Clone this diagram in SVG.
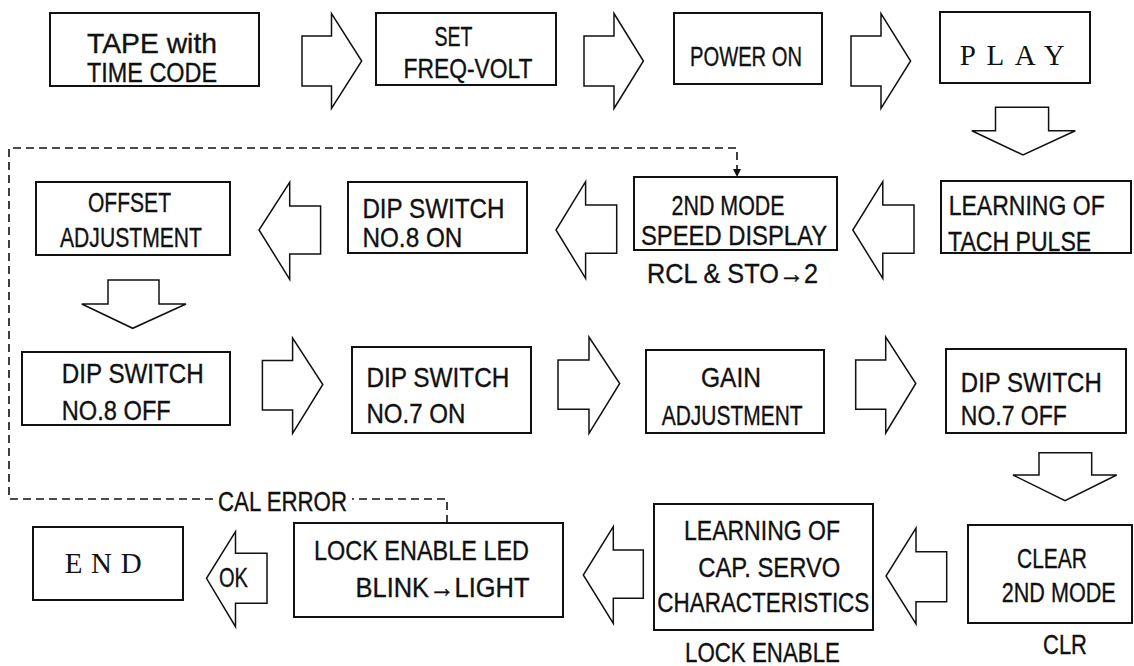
<svg xmlns="http://www.w3.org/2000/svg" width="1134" height="666" viewBox="0 0 1134 666">
<style>
.box{fill:#fff;stroke:#111;stroke-width:2}
.blk{fill:#fff;stroke:#111;stroke-width:1.5;stroke-linejoin:miter}
.dash{fill:none;stroke:#111;stroke-width:1.6;stroke-dasharray:8 5}
.t{font-family:"Liberation Sans",Arial,sans-serif;font-size:28px;fill:#111;stroke:#111;stroke-width:0.35}
.s{font-family:"Liberation Serif","Times New Roman",serif;font-size:29px;fill:#111}
</style>
<rect width="1134" height="666" fill="#fff"/>
<g id="connectors">
<path class="blk" d="M302,36 L331.5,36 L331.5,13.5 L361.7,61 L331.5,108.5 L331.5,86 L302,86 Z"/>
<path class="blk" d="M584,36 L614,36 L614,13.5 L643.4,61 L614,108.5 L614,86 L584,86 Z"/>
<path class="blk" d="M851,36 L881,36 L881,13.5 L910.6,61 L881,108.5 L881,86 L851,86 Z"/>
<path class="blk" d="M995.5,107.3 L1048.6,107.3 L1048.6,130.7 L1075.3,130.7 L1023,155 L971.8,130.7 L995.5,130.7 Z"/>
<path class="blk" d="M914,205 L882.8,205 L882.8,181.7 L852.8,230 L882.8,278.3 L882.8,253.3 L914,253.3 Z"/>
<path class="blk" d="M616.7,205 L585.6,205 L585.6,181.7 L556,230 L585.6,278.3 L585.6,253.3 L616.7,253.3 Z"/>
<path class="blk" d="M320.6,206 L289.7,206 L289.7,182.3 L259,230 L289.7,279.3 L289.7,254 L320.6,254 Z"/>
<path class="blk" d="M108,280 L159,280 L159,304 L186,304 L132.7,328.3 L81.8,304 L108,304 Z"/>
<path class="blk" d="M262.4,360.5 L292.6,360.5 L292.6,338 L322.8,384.5 L292.6,433.3 L292.6,410 L262.4,410 Z"/>
<path class="blk" d="M558,360 L589,360 L589,337 L619.7,383.5 L589,433.3 L589,409.3 L558,409.3 Z"/>
<path class="blk" d="M855.7,360 L885.7,360 L885.7,337 L915.8,383.5 L885.7,433 L885.7,409.3 L855.7,409.3 Z"/>
<path class="blk" d="M1039,452.7 L1091.7,452.7 L1091.7,475 L1116.7,475 L1065,500.7 L1013,475 L1039,475 Z"/>
<path class="blk" d="M946.7,551.7 L916,551.7 L916,528 L886,576 L916,624 L916,601.7 L946.7,601.7 Z"/>
<path class="blk" d="M643.3,550 L613.3,550 L613.3,526.7 L583.3,575 L613.3,623.3 L613.3,598.3 L643.3,598.3 Z"/>
<path class="blk" d="M267,553.3 L235.5,553.3 L235.5,531.7 L206.5,578.3 L235.5,626.7 L235.5,603.3 L267,603.3 Z"/>
<text class="t" x="219" y="587" font-size="27" textLength="29" lengthAdjust="spacingAndGlyphs">OK</text>
<path class="dash" d="M447,523 V499 H352"/>
<path class="dash" d="M213,499 H9 V148 H737 V170"/>
<polygon points="733,169 741,169 737,177" fill="#111"/>
<text class="t" x="218" y="510.7" textLength="129" lengthAdjust="spacingAndGlyphs">CAL ERROR</text>
</g>
<g id="tape"><rect class="box" x="50" y="13" width="209" height="73"/>
<text class="t" x="87" y="53" textLength="130" lengthAdjust="spacingAndGlyphs">TAPE with</text>
<text class="t" x="87" y="82" textLength="130" lengthAdjust="spacingAndGlyphs">TIME CODE</text></g>
<g id="set"><rect class="box" x="376" y="13" width="180" height="72"/>
<text class="t" x="434.4" y="46" textLength="38" lengthAdjust="spacingAndGlyphs">SET</text>
<text class="t" x="403.5" y="78.3" textLength="129" lengthAdjust="spacingAndGlyphs">FREQ-VOLT</text></g>
<g id="power"><rect class="box" x="674" y="13" width="148" height="71"/>
<text class="t" x="690" y="66" textLength="112" lengthAdjust="spacingAndGlyphs">POWER ON</text></g>
<g id="play"><rect class="box" x="940" y="12" width="150" height="71"/>
<text class="s" x="959.7" y="65" textLength="105" lengthAdjust="spacing">PLAY</text></g>
<g id="tach"><rect class="box" x="941" y="181" width="190" height="72"/>
<text class="t" transform="translate(948.7,215) scale(0.8,1)" x="0" y="0" textLength="195" lengthAdjust="spacingAndGlyphs">LEARNING OF</text>
<text class="t" transform="translate(948,251) scale(0.8,1)" x="0" y="0" textLength="179" lengthAdjust="spacingAndGlyphs">TACH PULSE</text></g>
<g id="mode2"><rect class="box" x="634" y="177" width="203" height="73"/>
<text class="t" x="671.6" y="215" textLength="113" lengthAdjust="spacingAndGlyphs">2ND MODE</text>
<text class="t" x="641" y="245" textLength="186" lengthAdjust="spacingAndGlyphs">SPEED DISPLAY</text>
<text class="t" x="647" y="283.3" textLength="171" lengthAdjust="spacingAndGlyphs">RCL &amp; STO→2</text></g>
<g id="dip8on"><rect class="box" x="348" y="182" width="179" height="71"/>
<text class="t" x="362.4" y="218" textLength="142" lengthAdjust="spacingAndGlyphs">DIP SWITCH</text>
<text class="t" x="362.4" y="247" textLength="100" lengthAdjust="spacingAndGlyphs">NO.8 ON</text></g>
<g id="offset"><rect class="box" x="36" y="182" width="194" height="73"/>
<text class="t" x="88" y="211.7" textLength="83" lengthAdjust="spacingAndGlyphs">OFFSET</text>
<text class="t" x="60" y="246.7" textLength="142" lengthAdjust="spacingAndGlyphs">ADJUSTMENT</text></g>
<g id="dip8off"><rect class="box" x="22" y="352" width="208" height="73"/>
<text class="t" x="61.8" y="383.3" textLength="142" lengthAdjust="spacingAndGlyphs">DIP SWITCH</text>
<text class="t" x="61.8" y="420" textLength="109" lengthAdjust="spacingAndGlyphs">NO.8 OFF</text></g>
<g id="dip7on"><rect class="box" x="352" y="347" width="179" height="86"/>
<text class="t" x="366.4" y="386.7" textLength="143" lengthAdjust="spacingAndGlyphs">DIP SWITCH</text>
<text class="t" x="366.4" y="423.3" textLength="99" lengthAdjust="spacingAndGlyphs">NO.7 ON</text></g>
<g id="gain"><rect class="box" x="646" y="350" width="178" height="83"/>
<text class="t" x="701" y="386.7" textLength="60" lengthAdjust="spacingAndGlyphs">GAIN</text>
<text class="t" x="661.7" y="425" textLength="141" lengthAdjust="spacingAndGlyphs">ADJUSTMENT</text></g>
<g id="dip7off"><rect class="box" x="946" y="349" width="180" height="84"/>
<text class="t" x="960.8" y="392" textLength="141" lengthAdjust="spacingAndGlyphs">DIP SWITCH</text>
<text class="t" x="960.8" y="425" textLength="106" lengthAdjust="spacingAndGlyphs">NO.7 OFF</text></g>
<g id="clear"><rect class="box" x="968" y="525" width="164" height="98"/>
<text class="t" x="1017" y="568.3" textLength="70" lengthAdjust="spacingAndGlyphs">CLEAR</text>
<text class="t" transform="translate(1001.7,601.7) scale(0.8,1)" x="0" y="0" textLength="142.5" lengthAdjust="spacingAndGlyphs">2ND MODE</text>
<text class="t" x="1043" y="654" textLength="44" lengthAdjust="spacingAndGlyphs">CLR</text></g>
<g id="capservo"><rect class="box" x="654" y="504" width="219" height="126"/>
<text class="t" x="684" y="540" textLength="156" lengthAdjust="spacingAndGlyphs">LEARNING OF</text>
<text class="t" x="698.3" y="576.7" textLength="142" lengthAdjust="spacingAndGlyphs">CAP. SERVO</text>
<text class="t" x="657.3" y="611.7" textLength="212" lengthAdjust="spacingAndGlyphs">CHARACTERISTICS</text>
<text class="t" x="685" y="661.7" textLength="155" lengthAdjust="spacingAndGlyphs">LOCK ENABLE</text></g>
<g id="lockled"><rect class="box" x="294" y="523" width="269" height="94"/>
<text class="t" x="314" y="560" textLength="215" lengthAdjust="spacingAndGlyphs">LOCK ENABLE LED</text>
<text class="t" x="355.5" y="597.3" textLength="174" lengthAdjust="spacingAndGlyphs">BLINK→LIGHT</text></g>
<g id="end"><rect class="box" x="33" y="527" width="150" height="73"/>
<text class="s" x="64.7" y="573.3" textLength="77" lengthAdjust="spacing">END</text></g>
</svg>
